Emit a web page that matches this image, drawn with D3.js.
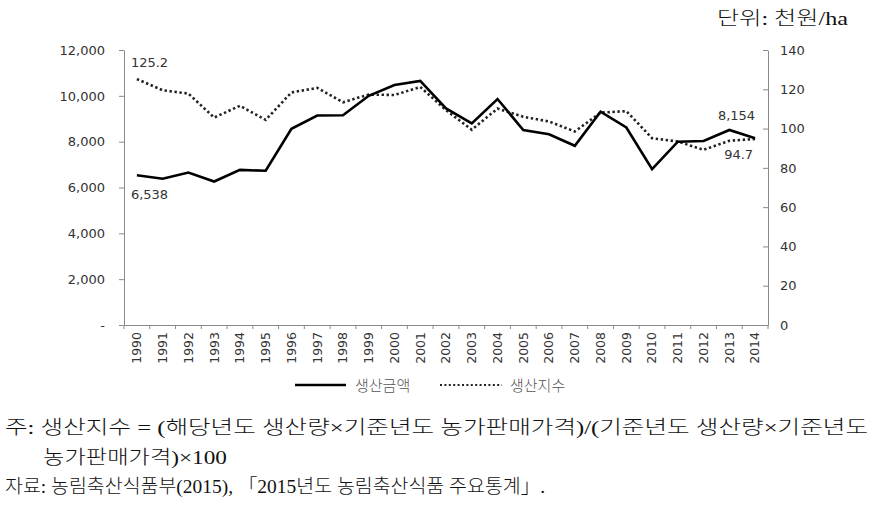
<!DOCTYPE html>
<html>
<head>
<meta charset="utf-8">
<script src="https://cdn.jsdelivr.net/npm/d3@7"></script>
<style>
html,body{margin:0;padding:0;background:#fff;}
svg{display:block;}
</style>
</head>
<body>
<svg id="chart" width="877" height="524"></svg>
<script>
const years = ["1990","1991","1992","1993","1994","1995","1996","1997","1998","1999","2000","2001","2002","2003","2004","2005","2006","2007","2008","2009","2010","2011","2012","2013","2014"];
const amountValues = [6538,6380,6650,6260,6770,6730,8560,9140,9150,10000,10470,10650,9450,8800,9860,8510,8320,7820,9310,8620,6800,8000,8030,8510,8154];
const indexValues = [125.2,119.5,117.8,105.6,111.6,104.4,118.4,120.7,113.4,117.3,117.1,121.2,109.4,99.4,110.2,106.0,103.6,98.5,108.1,108.9,95.1,93.4,89.2,93.8,94.7];
const leftTicks = [0,2000,4000,6000,8000,10000,12000];
const rightTicks = [0,20,40,60,80,100,120,140];
const seriesNames = ["생산금액","생산지수"];
const unitText = "단위: 천원/ha";
const noteLines = [
  "주: 생산지수 = (해당년도 생산량×기준년도 농가판매가격)/(기준년도 생산량×기준년도",
  "농가판매가격)×100",
  "자료: 농림축산식품부(2015), 「2015년도 농림축산식품 주요통계」."
];

(function(){
const svg = d3.select("#chart");
const mLeft = 124, mRight = 768, mTop = 50, mBottom = 325;
const tickFont = "'DejaVu Sans', Verdana, sans-serif";
const tickColor = "#333";
const axisColor = "#8a8a8a";

const x = d3.scaleBand().domain(years).range([mLeft, mRight]);
const yL = d3.scaleLinear().domain([0,12000]).range([mBottom, mTop]);
const yR = d3.scaleLinear().domain([0,140]).range([mBottom, mTop]);
const cx = d => x(d) + x.bandwidth()/2;

const gL = svg.append("g").attr("transform", `translate(${mLeft},0)`)
  .call(d3.axisLeft(yL).tickValues(leftTicks).tickSize(5).tickSizeOuter(0).tickPadding(14)
    .tickFormat(d => d === 0 ? "-" : d3.format(",")(d)));
const gR = svg.append("g").attr("transform", `translate(${mRight},0)`)
  .call(d3.axisRight(yR).tickValues(rightTicks).tickSize(-5).tickSizeOuter(0).tickPadding(12));
const gB = svg.append("g").attr("transform", `translate(0,${mBottom})`)
  .call(d3.axisBottom(x).tickSize(0).tickSizeOuter(0).tickPadding(0));

[gL,gR,gB].forEach(g => {
  g.select(".domain").attr("stroke", axisColor).attr("stroke-width", 1);
  g.selectAll(".tick line").attr("stroke", axisColor);
  g.selectAll(".tick text").attr("fill", tickColor).style("font-family", tickFont).style("font-size", "13px");
});
gB.selectAll(".tick text")
  .attr("transform", "rotate(-90)")
  .attr("text-anchor", "end")
  .attr("x", -7)
  .attr("y", 0)
  .attr("dy", "0.35em")
  .style("font-size", "12.5px");
const bounds = years.map(d => x(d)).concat([mRight]);
svg.append("g").selectAll("line").data(bounds).join("line")
  .attr("x1", d => d).attr("x2", d => d)
  .attr("y1", mBottom).attr("y2", mBottom + 4)
  .attr("stroke", axisColor);

const lineAmount = d3.line().x((d,i) => cx(years[i])).y(d => yL(d));
const lineIndex = d3.line().x((d,i) => cx(years[i])).y(d => yR(d));

svg.append("path").datum(indexValues)
  .attr("d", lineIndex).attr("fill", "none")
  .attr("stroke", "#222").attr("stroke-width", 2.6)
  .attr("stroke-dasharray", "2.4,2.6");
svg.append("path").datum(amountValues)
  .attr("d", lineAmount).attr("fill", "none")
  .attr("stroke", "#000").attr("stroke-width", 2.6)
  .attr("stroke-linejoin", "miter");

const labelStyle = s => s.attr("fill", tickColor).style("font-family", tickFont).style("font-size", "13px");
const n = years.length - 1;
svg.append("text").call(labelStyle)
  .attr("x", cx(years[0]) - 6).attr("y", yR(indexValues[0]) - 12)
  .text(d3.format(".1f")(indexValues[0]));
svg.append("text").call(labelStyle)
  .attr("x", cx(years[0]) - 6).attr("y", yL(amountValues[0]) + 24)
  .text(d3.format(",")(amountValues[0]));
svg.append("text").call(labelStyle)
  .attr("text-anchor", "end")
  .attr("x", cx(years[n])).attr("y", yL(amountValues[n]) - 18)
  .text(d3.format(",")(amountValues[n]));
svg.append("text").call(labelStyle)
  .attr("text-anchor", "end")
  .attr("x", cx(years[n]) - 2).attr("y", yR(indexValues[n]) + 20)
  .text(d3.format(".1f")(indexValues[n]));

const lg = svg.append("g");
lg.append("line").attr("x1", 295).attr("x2", 346).attr("y1", 385).attr("y2", 385)
  .attr("stroke", "#000").attr("stroke-width", 2.6);
lg.append("text").attr("x", 355).attr("y", 391).text(seriesNames[0])
  .attr("fill", "#555").style("font-family", "'Noto Sans CJK KR', sans-serif").style("font-size", "15px").style("font-weight", "300");
lg.append("line").attr("x1", 440).attr("x2", 502).attr("y1", 385).attr("y2", 385)
  .attr("stroke", "#222").attr("stroke-width", 2.2).attr("stroke-dasharray", "2,2.4");
lg.append("text").attr("x", 510).attr("y", 391).text(seriesNames[1])
  .attr("fill", "#555").style("font-family", "'Noto Sans CJK KR', sans-serif").style("font-size", "15px").style("font-weight", "300");

svg.append("text").attr("x", 848).attr("y", 25).attr("text-anchor", "end")
  .attr("fill", "#111")
  .style("font-family", "'Liberation Serif', 'Noto Sans CJK KR', serif").style("font-size", "19px").style("font-weight", "300")
  .attr("textLength", 131).attr("lengthAdjust", "spacingAndGlyphs")
  .text(unitText);

const noteFont = "'Liberation Serif', 'Noto Sans CJK KR', serif";
const notePos = [{x:5,y:434,w:863},{x:43,y:464,w:184},{x:5,y:493,w:540}];
noteLines.forEach((t,i) => {
  svg.append("text").attr("x", notePos[i].x).attr("y", notePos[i].y)
    .attr("fill", "#111")
    .style("font-family", noteFont).style("font-size", "19px").style("font-weight", "300")
    .attr("textLength", notePos[i].w).attr("lengthAdjust", "spacingAndGlyphs")
    .text(t);
});
})();
</script>
</body>
</html>
